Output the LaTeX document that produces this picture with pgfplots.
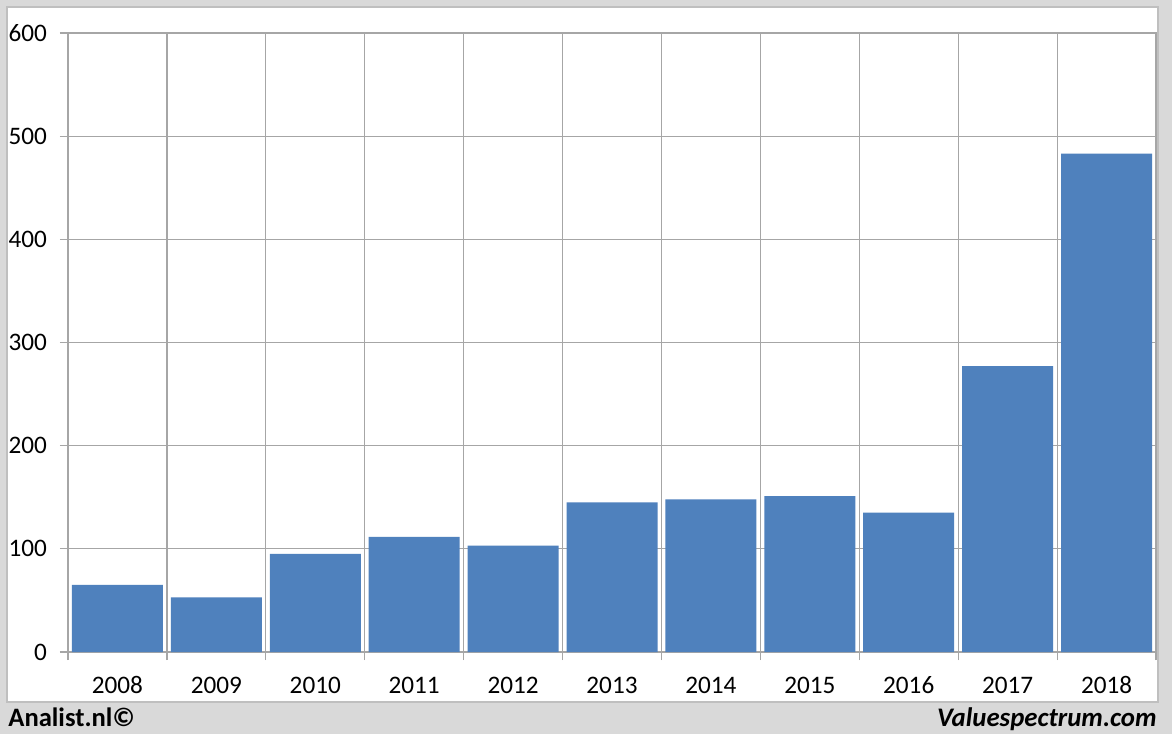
\documentclass[border=0pt]{standalone}
\usepackage{fontspec}
\setmainfont{Carlito}
\usepackage{pgfplots}
\pgfplotsset{compat=1.18}
\definecolor{barblue}{HTML}{4F81BD}
\definecolor{gridgray}{HTML}{A6A6A6}
\definecolor{bggray}{HTML}{D9D9D9}
\definecolor{panelborder}{HTML}{BFBFBF}
\begin{document}
\begin{tikzpicture}
\useasboundingbox (0,0) rectangle (586pt,367pt);
\fill[bggray] (0,0) rectangle (586pt,367pt);
\filldraw[fill=white,draw=panelborder,line width=0.75pt] (3.5pt,16pt) rectangle (579pt,363.5pt);
\begin{axis}[
  at={(34pt,41pt)}, anchor=south west,
  scale only axis, width=544pt, height=309.5pt,
  xmin=-0.5, xmax=10.5, ymin=0, ymax=600,
  axis line style={gridgray, line width=0.6pt},
  xtick={0,...,10},
  xticklabels={2008,2009,2010,2011,2012,2013,2014,2015,2016,2017,2018},
  minor xtick={-0.5,0.5,...,10.5},
  xminorgrids=true,
  ytick={0,100,...,600},
  ymajorgrids=true,
  xtick pos=bottom, ytick pos=left,
  grid style={gridgray, line width=0.6pt},
  minor grid style={gridgray, line width=0.6pt},
  tick align=outside,
  major tick length=4pt,
  minor tick length=4pt,
  x tick style={draw=none},
  minor x tick style={draw=gridgray, line width=0.6pt},
  y tick style={gridgray, line width=0.6pt},
  every tick label/.append style={font=\fontsize{12.6}{15}\selectfont, text=black},
  /pgf/number format/assume math mode=true,
  yticklabel style={xshift=-3pt},
  xticklabel style={yshift=-4pt, text height=9pt, text depth=0pt},
]
\addplot[ybar, bar width=0.92, fill=barblue, draw=none, bar shift=0pt] coordinates {
(0,65) (1,53) (2,95) (3,111.5) (4,103) (5,145) (6,148) (7,151) (8,135) (9,277) (10,483)
};
\end{axis}
\node[anchor=base west, inner sep=0pt, font=\fontsize{13.3}{16}\selectfont\bfseries] at (4pt,3.8pt) {Analist.nl©};
\node[anchor=base east, inner sep=0pt, font=\fontsize{13.4}{16}\selectfont\bfseries\itshape] at (578.5pt,3.8pt) {Valuespectrum.com};
\end{tikzpicture}
\end{document}
